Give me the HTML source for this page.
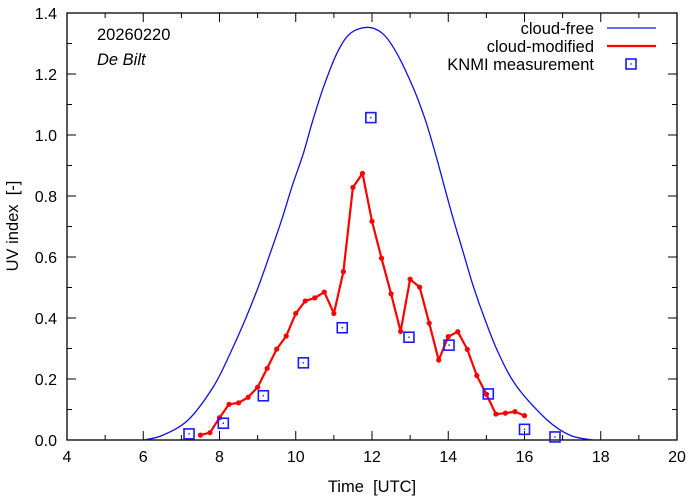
<!DOCTYPE html>
<html><head><meta charset="utf-8">
<style>
html,body{margin:0;padding:0;background:#fff;}
svg{display:block;font-family:"Liberation Sans",sans-serif;}
.pre{white-space:pre;}
</style></head>
<body>
<svg id="chart" width="694" height="501" viewBox="0 0 694 501"></svg>
<script>
const xTicks=[4,6,8,10,12,14,16,18,20];
const yTicks=[0,0.2,0.4,0.6,0.8,1.0,1.2,1.4];
const yTickLabels=["0.0","0.2","0.4","0.6","0.8","1.0","1.2","1.4"];
const clearTimes=[6.0,6.5,7.18,7.84,8.28,8.67,9.02,9.33,9.63,9.9,10.2,10.45,10.73,11.08,11.43,11.9,12.3,12.65,13.07,13.4,13.66,13.9,14.14,14.4,14.66,14.97,15.32,15.8,16.59,17.2,17.8];
const clearValues=[0.0,0.015,0.066,0.175,0.284,0.393,0.503,0.612,0.721,0.83,0.94,1.049,1.158,1.268,1.333,1.353,1.33,1.268,1.158,1.049,0.94,0.83,0.721,0.612,0.503,0.393,0.284,0.175,0.066,0.015,0.0];
const cloudTimes=[7.5,7.75,8,8.25,8.5,8.75,9,9.25,9.5,9.75,10,10.25,10.5,10.75,11,11.25,11.5,11.75,12,12.25,12.5,12.75,13,13.25,13.5,13.75,14,14.25,14.5,14.75,15,15.25,15.5,15.75,16];
const cloudValues=[0.016,0.024,0.073,0.117,0.122,0.14,0.173,0.235,0.298,0.341,0.415,0.456,0.466,0.485,0.415,0.552,0.828,0.874,0.717,0.596,0.479,0.356,0.527,0.501,0.383,0.262,0.339,0.355,0.297,0.211,0.15,0.085,0.088,0.093,0.08];
const measTimes=[7.2,8.1,9.15,10.2,11.22,11.97,12.97,14.02,15.05,16.0,16.8];
const measValues=[0.02,0.055,0.145,0.253,0.368,1.057,0.337,0.311,0.151,0.035,0.01];

const L=67,R=677,T=13,B=440;
const X=t=>L+(t-4)/16*(R-L);
const Y=v=>B-v/1.4*(B-T);
const NS="http://www.w3.org/2000/svg";
const svg=document.getElementById('chart');
function mk(tag,attrs,parent){const e=document.createElementNS(NS,tag);for(const k in attrs)e.setAttribute(k,attrs[k]);(parent||svg).appendChild(e);return e;}

const frame=mk('rect',{x:L,y:T,width:R-L,height:B-T,fill:'none',stroke:'#000','stroke-width':1.3});



const xg=mk('g',{});


for(let t=4;t<=20;t+=1){
  const major=xTicks.includes(t);const len=major?9:5;const x=X(t);
  mk('line',{x1:x,y1:B,x2:x,y2:B-len,stroke:'#000','stroke-width':1},xg);
  mk('line',{x1:x,y1:T,x2:x,y2:T+len,stroke:'#000','stroke-width':1},xg);
}
xTicks.forEach(t=>{
  const tx=mk('text',{x:X(t),y:B+22,'text-anchor':'middle','font-size':16,fill:'#000'},xg);
  tx.textContent=t;
  
  
});
const yg=mk('g',{});


for(let i=0;i<=14;i++){
  const v=i*0.1;const major=i%2===0;const len=major?9:5;const y=Y(v);
  mk('line',{x1:L,y1:y,x2:L+len,y2:y,stroke:'#000','stroke-width':1},yg);
  mk('line',{x1:R,y1:y,x2:R-len,y2:y,stroke:'#000','stroke-width':1},yg);
}
yTicks.forEach((v,i)=>{
  const tx=mk('text',{x:L-10,y:Y(v)+6,'text-anchor':'end','font-size':16,fill:'#000'},yg);
  tx.textContent=yTickLabels[i];
  
  
});
const xt=mk('text',{x:372,y:492,'text-anchor':'middle','font-size':16.5,'class':'pre'});
xt.textContent='Time  [UTC]';


const yt=mk('text',{x:0,y:0,'text-anchor':'middle','font-size':16.5,'class':'pre',transform:'translate(18,226) rotate(-90)'});
yt.textContent='UV index  [-]';



const d=mk('text',{x:97,y:40,'font-size':16.5});d.textContent='20260220';


const s=mk('text',{x:97,y:65,'font-size':16.5,'font-style':'italic'});s.textContent='De Bilt';



// smooth curve (Catmull-Rom)
function smooth(xs,ys){
  const P=xs.map((t,i)=>[X(t),Y(ys[i])]);
  let p='M'+P[0][0].toFixed(1)+' '+P[0][1].toFixed(1);
  for(let i=0;i<P.length-1;i++){
    const p0=P[Math.max(0,i-1)],p1=P[i],p2=P[i+1],p3=P[Math.min(P.length-1,i+2)];
    const c1=[p1[0]+(p2[0]-p0[0])/6,p1[1]+(p2[1]-p0[1])/6];
    const c2=[p2[0]-(p3[0]-p1[0])/6,p2[1]-(p3[1]-p1[1])/6];
    p+=' C'+c1.map(v=>v.toFixed(1)).join(' ')+' '+c2.map(v=>v.toFixed(1)).join(' ')+' '+p2.map(v=>v.toFixed(1)).join(' ');
  }
  return p;
}
const cf=mk('path',{d:smooth(clearTimes,clearValues),fill:'none',stroke:'#1010e0','stroke-width':1.3});



const cm=mk('path',{d:cloudTimes.map((t,i)=>(i?'L':'M')+X(t).toFixed(1)+' '+Y(cloudValues[i]).toFixed(1)).join(' '),fill:'none',stroke:'#f00','stroke-width':2.2,'stroke-linejoin':'round'});


cloudTimes.forEach((t,i)=>{
  const c=mk('circle',{cx:X(t),cy:Y(cloudValues[i]),r:2.6,fill:'#f00'});
  
  
});
measTimes.forEach((t,i)=>{
  const g=mk('g',{});
  
  
  const x=X(t),y=Y(measValues[i]);
  mk('rect',{x:x-5,y:y-5,width:10,height:10,fill:'none',stroke:'#1a1aff','stroke-width':1.6},g);
  mk('rect',{x:x-0.7,y:y-0.7,width:1.4,height:1.4,fill:'#1a1aff'},g);
});

const lg=mk('g',{});


const rows=[['cloud-free',28],['cloud-modified',46],['KNMI measurement',64]];
rows.forEach(([lab,y])=>{
  const tx=mk('text',{x:594,y:y+6,'text-anchor':'end','font-size':16.5},lg);tx.textContent=lab;
  
  
});
mk('line',{x1:607,y1:28,x2:656,y2:28,stroke:'#1010e0','stroke-width':1.3},lg);
mk('line',{x1:607,y1:46,x2:656,y2:46,stroke:'#f00','stroke-width':2.2},lg);
mk('rect',{x:626,y:59,width:10,height:10,fill:'none',stroke:'#1a1aff','stroke-width':1.6},lg);
mk('rect',{x:630.3,y:63.3,width:1.4,height:1.4,fill:'#1a1aff'},lg);
</script>
</body></html>
